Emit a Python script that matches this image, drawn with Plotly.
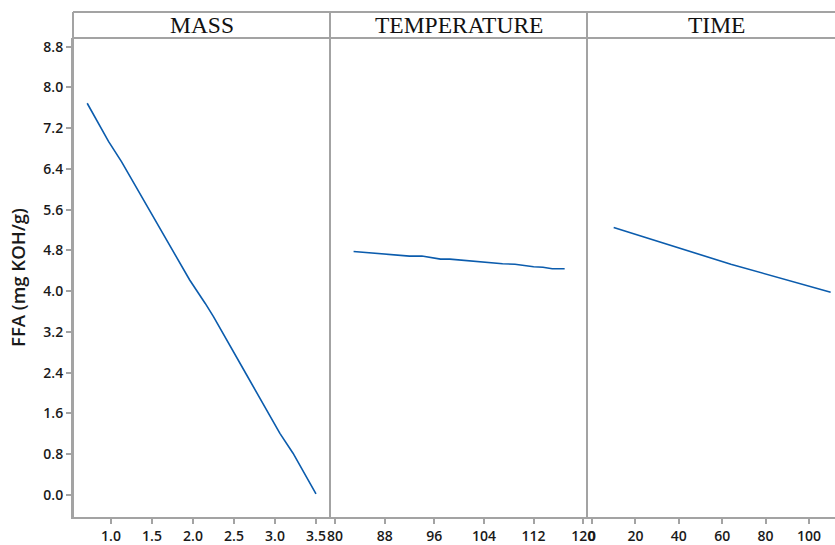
import plotly.graph_objects as go

# Main effects of each factor on FFA
mass = [0.71, 0.97, 1.13, 1.50, 1.96, 2.15, 2.25, 2.65, 3.06, 3.22, 3.50]
ffa_mass = [7.69, 6.94, 6.54, 5.51, 4.22, 3.76, 3.50, 2.37, 1.21, 0.82, 0.02]

temperature = [83, 86, 88, 90, 92, 94, 97, 98.5, 101, 103.5, 105.5, 107, 109, 112, 113.5, 115, 117]
ffa_temp = [4.78, 4.75, 4.73, 4.72, 4.69, 4.69, 4.63, 4.63, 4.60, 4.57, 4.56, 4.54, 4.53, 4.48, 4.47, 4.44, 4.44]

time = [10, 59, 64, 110]
ffa_time = [5.25, 4.61, 4.53, 3.98]

panel_titles = ["MASS", "TEMPERATURE", "TIME"]
mass_ticks = [1.0, 1.5, 2.0, 2.5, 3.0, 3.5]
temp_ticks = [80, 88, 96, 104, 112, 120]
time_ticks = [0, 20, 40, 60, 80, 100]
y_ticks = [0.0, 0.8, 1.6, 2.4, 3.2, 4.0, 4.8, 5.6, 6.4, 7.2, 8.0, 8.8]

LINE = "#0b5cad"
FRAME = "#a3a3a3"
TXT = "#1a1a1a"
W, H = 835, 545
ML, MR, MT, MB = 73, 0, 38, 28
pw = W - ML - MR
ph = H - MT - MB
d1 = 257 / pw
d2 = 514 / pw
head = 1 + 26 / ph

fig = go.Figure()
for xs, ys, ax in [(mass, ffa_mass, "x"), (temperature, ffa_temp, "x2"), (time, ffa_time, "x3")]:
    fig.add_trace(go.Scatter(x=xs, y=ys, xaxis=ax, yaxis="y", mode="lines",
                             line=dict(color=LINE, width=1.6), showlegend=False,
                             hoverinfo="skip"))

tickfont = dict(family="Open Sans", size=14, color=TXT, weight=600)
common_x = dict(showgrid=False, zeroline=False, showline=True, linecolor=FRAME, linewidth=2,
                ticks="outside", ticklen=5, tickcolor=FRAME, tickwidth=1.5,
                tickfont=tickfont, anchor="y", fixedrange=True, automargin=False)

fig.update_layout(
    width=W, height=H,
    margin=dict(l=ML, r=MR, t=MT, b=MB, autoexpand=False),
    paper_bgcolor="white", plot_bgcolor="white",
    xaxis=dict(domain=[0, d1], range=[0.537, 3.671], tickvals=mass_ticks,
               tickformat=".1f", **common_x),
    xaxis2=dict(domain=[d1, d2], range=[79.2, 120.6], tickvals=temp_ticks, **common_x),
    xaxis3=dict(domain=[d2, 1], range=[-2.3, 112.0], tickvals=time_ticks, **common_x),
    yaxis=dict(range=[-0.432, 8.971], tickvals=y_ticks, tickformat=".1f",
               showgrid=False, zeroline=False, showline=True, linecolor=FRAME, linewidth=2,
               ticks="outside", ticklen=5, tickcolor=FRAME, tickwidth=1.5,
               tickfont=tickfont, fixedrange=True, automargin=False,
               title=dict(text="FFA (mg KOH/g)", standoff=13,
                          font=dict(family="Open Sans", size=18.5, color=TXT, weight=600))),
)

shapes = []
# strip header lines
shapes.append(dict(type="line", xref="paper", yref="paper", x0=0, x1=1, y0=head, y1=head,
                   line=dict(color=FRAME, width=2)))
shapes.append(dict(type="line", xref="paper", yref="paper", x0=0, x1=1, y0=1, y1=1,
                   line=dict(color=FRAME, width=2)))
# panel borders through the header
for xp in [0, d1, d2]:
    shapes.append(dict(type="line", xref="paper", yref="paper", x0=xp, x1=xp, y0=0, y1=head,
                       line=dict(color=FRAME, width=2)))
fig.update_layout(shapes=shapes)

centers = [d1 / 2, (d1 + d2) / 2, (716 - ML) / pw]
for title, cx in zip(panel_titles, centers):
    fig.add_annotation(text=title, x=cx, y=(1 + head) / 2, xref="paper", yref="paper",
                       showarrow=False, xanchor="center", yanchor="middle",
                       font=dict(family="Liberation Serif", size=23.5, color="#111111"))

fig.write_html("out.html")
